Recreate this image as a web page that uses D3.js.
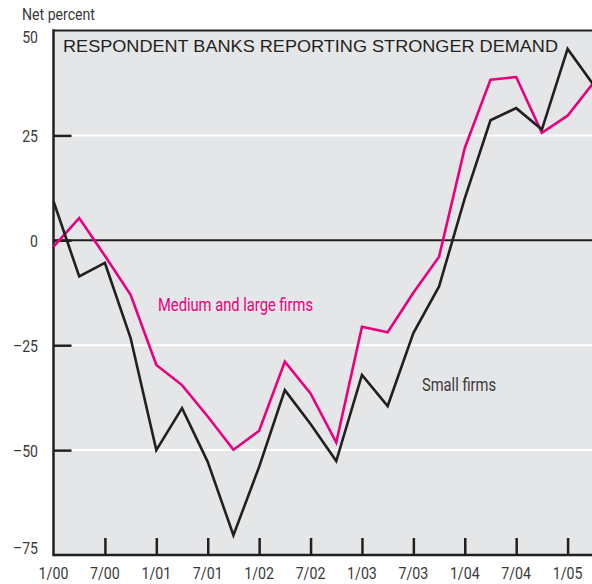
<!DOCTYPE html>
<html>
<head>
<meta charset="utf-8">
<script src="https://cdn.jsdelivr.net/npm/d3@7/dist/d3.min.js"></script>
<style>
  html, body { margin: 0; padding: 0; background: #fff; }
  svg { display: block; }
  .narrow { font-family: "Liberation Sans Narrow", "Arial Narrow", "Roboto", sans-serif; }
</style>
</head>
<body>
<svg id="chart" width="592" height="584"></svg>
<script>
// Quarterly survey periods, 1/00 through 4/05
const quarters = ["1/00","4/00","7/00","10/00","1/01","4/01","7/01","10/01",
                  "1/02","4/02","7/02","10/02","1/03","4/03","7/03","10/03",
                  "1/04","4/04","7/04","10/04","1/05","4/05"];

// Net percent of respondent banks reporting stronger demand
const smallFirms = [9.3, -8.6, -5.4, -23.3, -50.0, -40.0, -52.8, -70.3,
                    -54.0, -35.7, -43.8, -52.6, -32.1, -39.5, -22.1, -11.0,
                    10.0, 28.6, 31.5, 26.4, 45.6, 37.1];
const mediumLargeFirms = [-1.5, 5.3, -3.7, -13.0, -29.7, -34.5, -42.0, -49.9,
                          -45.4, -28.9, -36.5, -48.2, -20.6, -21.9, -12.5, -3.9,
                          22.0, 38.3, 38.9, 25.6, 29.7, 37.5];

// Axis ticks
const xTickLabels = ["1/00","7/00","1/01","7/01","1/02","7/02","1/03","7/03","1/04","7/04","1/05"];
const yTicks = [50, 25, 0, -25, -50, -75];

(function () {
  const svg = d3.select("#chart");
  const plotLeft = 53.5, plotRight = 593.3, plotTop = 30.5, plotBottom = 555;

  const x = d3.scaleLinear().domain([0, quarters.length - 1]).range([plotLeft, plotRight]);
  const y = d3.scaleLinear().domain([-75, 50]).range([plotBottom, plotTop]);

  const ink = "#231f20";
  const pink = "#e8007f";
  const labelGrey = "#3a3a3a";

  // Squeeze a text's glyphs horizontally to a condensed face width
  function condense(sel, factor) {
    sel.each(function () {
      const w = this.getComputedTextLength();
      d3.select(this).attr("textLength", w * factor).attr("lengthAdjust", "spacingAndGlyphs");
    });
  }

  // Plot background
  svg.append("rect")
    .attr("x", plotLeft).attr("y", plotTop)
    .attr("width", 592 - plotLeft).attr("height", plotBottom - plotTop)
    .attr("fill", "#e5e6e8");

  // White gridlines
  svg.append("g").selectAll("line")
    .data(yTicks.filter(d => d !== 0 && d !== 50 && d !== -75))
    .join("line")
    .attr("x1", plotLeft).attr("x2", 592)
    .attr("y1", d => y(d)).attr("y2", d => y(d))
    .attr("stroke", "#fff").attr("stroke-width", 2);

  // Zero line
  svg.append("line")
    .attr("x1", plotLeft).attr("x2", 592)
    .attr("y1", y(0)).attr("y2", y(0))
    .attr("stroke", ink).attr("stroke-width", 2);

  // Left axis with inward ticks
  const yAxis = d3.axisRight(y).tickValues(yTicks.filter(d => d !== 50 && d !== -75))
    .tickSize(18).tickFormat("");
  const gy = svg.append("g").attr("transform", `translate(${plotLeft},0)`).call(yAxis);
  gy.select(".domain").remove();
  gy.selectAll(".tick line").attr("stroke", ink).attr("stroke-width", 2.5);

  // Bottom axis with inward ticks
  const xAxis = d3.axisTop(x).tickValues(d3.range(2, 21, 2)).tickSize(17).tickFormat("");
  const gx = svg.append("g").attr("transform", `translate(0,${plotBottom})`).call(xAxis);
  gx.select(".domain").remove();
  gx.selectAll(".tick line").attr("stroke", ink).attr("stroke-width", 2.5);

  // Frame: left, top, bottom rules
  svg.append("line").attr("x1", plotLeft).attr("x2", plotLeft)
    .attr("y1", plotTop - 1.2).attr("y2", plotBottom + 1.2)
    .attr("stroke", ink).attr("stroke-width", 2.5);
  svg.append("line").attr("x1", plotLeft).attr("x2", 592).attr("y1", plotTop).attr("y2", plotTop)
    .attr("stroke", ink).attr("stroke-width", 2.2);
  svg.append("line").attr("x1", plotLeft).attr("x2", 592).attr("y1", plotBottom).attr("y2", plotBottom)
    .attr("stroke", ink).attr("stroke-width", 2.5);

  // Series lines
  const line = d3.line().x((d, i) => x(i)).y(d => y(d));
  svg.append("path").datum(mediumLargeFirms)
    .attr("d", line).attr("fill", "none")
    .attr("stroke", pink).attr("stroke-width", 2.6).attr("stroke-linejoin", "miter");
  svg.append("path").datum(smallFirms)
    .attr("d", line).attr("fill", "none")
    .attr("stroke", ink).attr("stroke-width", 2.6).attr("stroke-linejoin", "miter");

  // Y tick labels
  svg.append("g").attr("class", "narrow").selectAll("text")
    .data(yTicks).join("text")
    .attr("x", 38)
    .attr("y", d => y(d) + (d === 50 ? 7 : d === -75 ? -7 : 1))
    .attr("dy", "0.35em")
    .attr("text-anchor", "end")
    .attr("font-size", 16)
    .attr("fill", labelGrey)
    .text(d => d < 0 ? "\u2013" + Math.abs(d) : d)
    .call(condense, 0.88);

  // X tick labels
  svg.append("g").attr("class", "narrow").selectAll("text")
    .data(xTickLabels).join("text")
    .attr("x", (d, i) => x(i * 2))
    .attr("y", 573)
    .attr("dy", "0.35em")
    .attr("text-anchor", "middle")
    .attr("font-size", 16.5)
    .attr("fill", labelGrey)
    .text(d => d)
    .call(condense, 0.86);

  // Unit label
  svg.append("text").attr("class", "narrow")
    .attr("x", 22).attr("y", 20)
    .attr("font-size", 16.5).attr("fill", labelGrey)
    .attr("textLength", 73).attr("lengthAdjust", "spacingAndGlyphs")
    .text("Net percent");

  // Panel title
  svg.append("text")
    .attr("x", 63).attr("y", 52)
    .attr("font-family", "'Liberation Sans', Arial, sans-serif")
    .attr("font-size", 16.5).attr("fill", ink)
    .attr("textLength", 495).attr("lengthAdjust", "spacingAndGlyphs")
    .text("RESPONDENT BANKS REPORTING STRONGER DEMAND");

  // Series labels
  svg.append("text").attr("class", "narrow")
    .attr("x", 158).attr("y", 311)
    .attr("font-size", 17.5).attr("fill", pink)
    .attr("textLength", 155).attr("lengthAdjust", "spacingAndGlyphs")
    .text("Medium and large firms");
  svg.append("text").attr("class", "narrow")
    .attr("x", 422).attr("y", 391)
    .attr("font-size", 17.5).attr("fill", labelGrey)
    .attr("textLength", 74).attr("lengthAdjust", "spacingAndGlyphs")
    .text("Small firms");
})();
</script>
</body>
</html>
